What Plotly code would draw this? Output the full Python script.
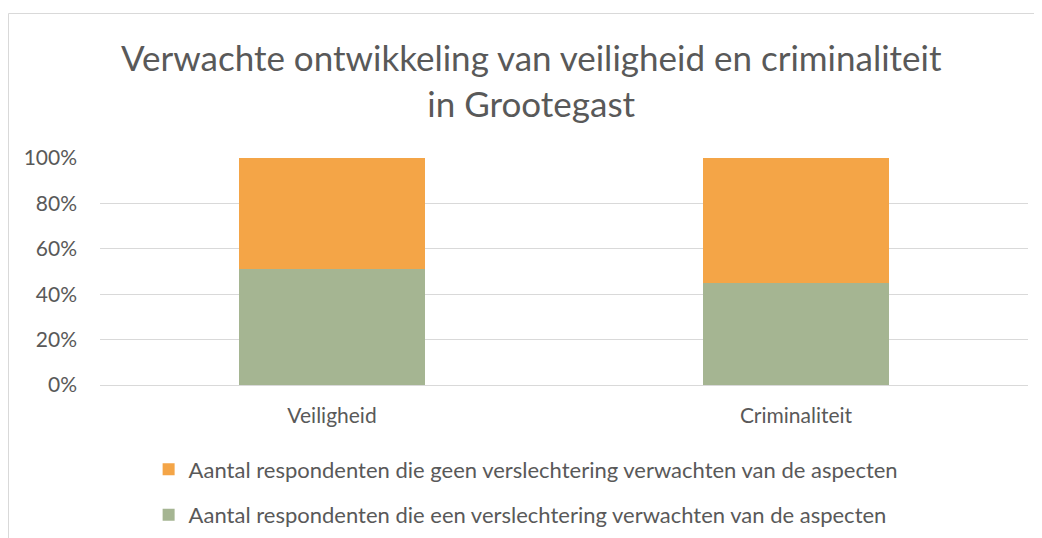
import plotly.graph_objects as go

categories = ["Veiligheid", "Criminaliteit"]
verslechtering = [0.51, 0.45]
geen_verslechtering = [0.49, 0.55]
names = ["Aantal respondenten die een verslechtering verwachten van de aspecten",
         "Aantal respondenten die geen verslechtering verwachten van de aspecten"]
tick_vals = [0, 0.2, 0.4, 0.6, 0.8, 1.0]
tick_text = ["0%", "20%", "40%", "60%", "80%", "100%"]

FONT = "Lato, 'Open Sans', sans-serif"
GREY = "#595959"

fig = go.Figure()
fig.add_trace(go.Bar(x=categories, y=verslechtering, name=names[0],
                     marker=dict(color="#A5B592", line=dict(width=0)),
                     width=0.4, legendgroup="a", legendrank=2))
fig.add_trace(go.Bar(x=categories, y=geen_verslechtering, name=names[1],
                     marker=dict(color="#F4A547", line=dict(width=0)),
                     width=0.4, legendgroup="b", legendrank=1))

W, H = 1034, 530
fig.update_layout(
    width=W, height=H,
    barmode="stack",
    paper_bgcolor="white", plot_bgcolor="white",
    margin=dict(l=92, r=14, t=150, b=153, autoexpand=False),
    title=dict(text="Verwachte ontwikkeling van veiligheid en criminaliteit<br>in Grootegast",
               x=0.506, xanchor="center", y=0.881, yanchor="top",
               font=dict(family=FONT, size=35, color=GREY)),
    font=dict(family=FONT, color=GREY),
    showlegend=True,
    legend=dict(orientation="v", xref="container", yref="container",
                x=0.136, xanchor="left", y=0.169, yanchor="top",
                traceorder="grouped", tracegroupgap=14,
                font=dict(family=FONT, size=22, color=GREY),
                itemwidth=30, bgcolor="rgba(0,0,0,0)"),
    xaxis=dict(showgrid=False, showline=False, ticks="", automargin=False,
               tickfont=dict(family=FONT, size=21, color=GREY),
               ticklabelstandoff=16),
    yaxis=dict(range=[0, 1.0], tickvals=tick_vals, ticktext=tick_text,
               showgrid=True, gridcolor="#d9d9d9", gridwidth=1,
               zeroline=True, zerolinecolor="#d9d9d9", zerolinewidth=1,
               showline=False, ticks="", automargin=False,
               tickfont=dict(family=FONT, size=21, color=GREY),
               ticklabelstandoff=22),
    shapes=[dict(type="rect", xref="paper", yref="paper",
                 x0=(0.5 - 92) / 928, x1=2, y0=-2, y1=(377 - 5.5) / 227,
                 line=dict(color="#d9d9d9", width=1), fillcolor="rgba(0,0,0,0)",
                 layer="below")],
)

fig.write_html("out.html")
